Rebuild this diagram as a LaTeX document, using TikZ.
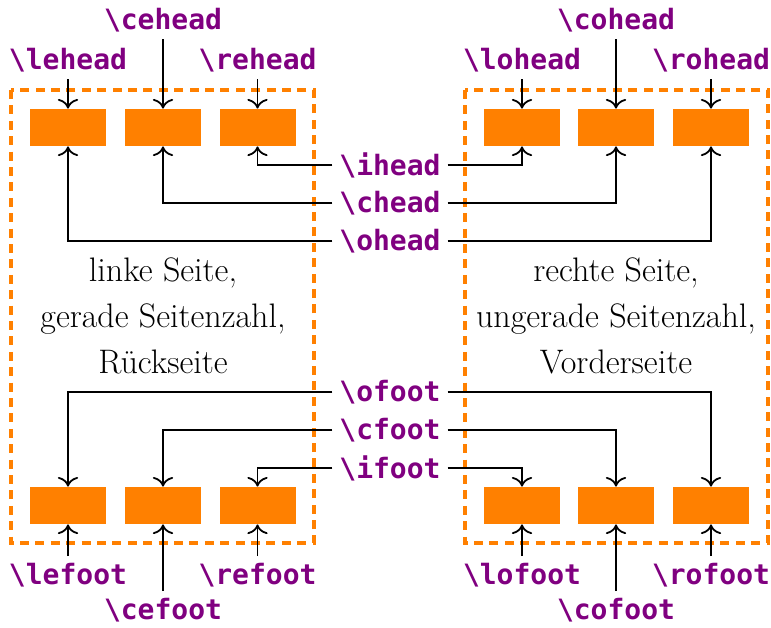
\documentclass[tikz,border=0pt]{standalone}
\usepackage{fontspec}
\setmonofont{DejaVu Sans Mono}
\usepackage{xcolor}
\usetikzlibrary{arrows,arrows.meta,backgrounds}
\definecolor{kwpurple}{RGB}{128,0,128}
\definecolor{pageorange}{RGB}{255,128,0}
\tikzstyle{slot}=[fill=pageorange, minimum width=38pt, minimum height=18.5pt, inner sep=0pt]
\tikzstyle{cmd}=[text=kwpurple, font=\fontsize{14}{16}\selectfont\ttfamily\bfseries]
\tikzstyle{page}=[draw=pageorange, line width=1.6pt, dash pattern=on 4.5pt off 3.2pt]
\tikzstyle{feed}=[-{To[scale=1.35]}, line width=0.9pt]
\tikzstyle{side}=[align=center, font=\fontsize{17}{23}\selectfont]

\begin{document}
\begin{tikzpicture}[x=0.5pt, y=-0.5pt]
	\useasboundingbox (0,0) rectangle (771,627);
	\draw[page] (11,90) rectangle (314,543);
	\draw[page] (465,90) rectangle (768,543);
%
	\node[slot] (lhA) at (68,127.5) {};
	\node[slot] (lhB) at (163,127.5) {};
	\node[slot] (lhC) at (257.5,127.5) {};
	\node[slot] (rhA) at (522,127.5) {};
	\node[slot] (rhB) at (616,127.5) {};
	\node[slot] (rhC) at (711,127.5) {};
	\node[slot] (lfA) at (68,505.5) {};
	\node[slot] (lfB) at (163,505.5) {};
	\node[slot] (lfC) at (257.5,505.5) {};
	\node[slot] (rfA) at (522,505.5) {};
	\node[slot] (rfB) at (616,505.5) {};
	\node[slot] (rfC) at (711,505.5) {};
%
	\node[side] (leftpage) at (163,316) {linke Seite,\\gerade Seitenzahl,\\R\"uckseite};
	\node[side] (rightpage) at (616,316) {rechte Seite,\\ungerade Seitenzahl,\\Vorderseite};
%
	\node[cmd] (lehead) at (68,60) {\textbackslash lehead};
	\node[cmd] (cehead) at (163,20) {\textbackslash cehead};
	\node[cmd] (rehead) at (257.5,60) {\textbackslash rehead};
	\node[cmd] (lohead) at (522,60) {\textbackslash lohead};
	\node[cmd] (cohead) at (616,20) {\textbackslash cohead};
	\node[cmd] (rohead) at (711,60) {\textbackslash rohead};
	\node[cmd] (lefoot) at (68,575) {\textbackslash lefoot};
	\node[cmd] (cefoot) at (163,610) {\textbackslash cefoot};
	\node[cmd] (refoot) at (257.5,575) {\textbackslash refoot};
	\node[cmd] (lofoot) at (522,575) {\textbackslash lofoot};
	\node[cmd] (cofoot) at (616,610) {\textbackslash cofoot};
	\node[cmd] (rofoot) at (711,575) {\textbackslash rofoot};
%
	\node[cmd] (ihead) at (390,165) {\textbackslash ihead};
	\node[cmd] (chead) at (390,203) {\textbackslash chead};
	\node[cmd] (ohead) at (390,241) {\textbackslash ohead};
	\node[cmd] (ofoot) at (390,392) {\textbackslash ofoot};
	\node[cmd] (cfoot) at (390,430) {\textbackslash cfoot};
	\node[cmd] (ifoot) at (390,468) {\textbackslash ifoot};
%
	\draw[feed] (lehead) -- (lhA);
	\draw[feed] (cehead) -- (lhB);
	\draw[feed] (rehead) -- (lhC);
	\draw[feed] (lohead) -- (rhA);
	\draw[feed] (cohead) -- (rhB);
	\draw[feed] (rohead) -- (rhC);
	\draw[feed] (lefoot) -- (lfA);
	\draw[feed] (cefoot) -- (lfB);
	\draw[feed] (refoot) -- (lfC);
	\draw[feed] (lofoot) -- (rfA);
	\draw[feed] (cofoot) -- (rfB);
	\draw[feed] (rofoot) -- (rfC);
%
	\draw[feed] (ihead.west) -| (lhC.south);
	\draw[feed] (ihead.east) -| (rhA.south);
	\draw[feed] (chead.west) -| (lhB.south);
	\draw[feed] (chead.east) -| (rhB.south);
	\draw[feed] (ohead.west) -| (lhA.south);
	\draw[feed] (ohead.east) -| (rhC.south);
	\draw[feed] (ofoot.west) -| (lfA.north);
	\draw[feed] (ofoot.east) -| (rfC.north);
	\draw[feed] (cfoot.west) -| (lfB.north);
	\draw[feed] (cfoot.east) -| (rfB.north);
	\draw[feed] (ifoot.west) -| (lfC.north);
	\draw[feed] (ifoot.east) -| (rfA.north);
\end{tikzpicture}
\end{document}
